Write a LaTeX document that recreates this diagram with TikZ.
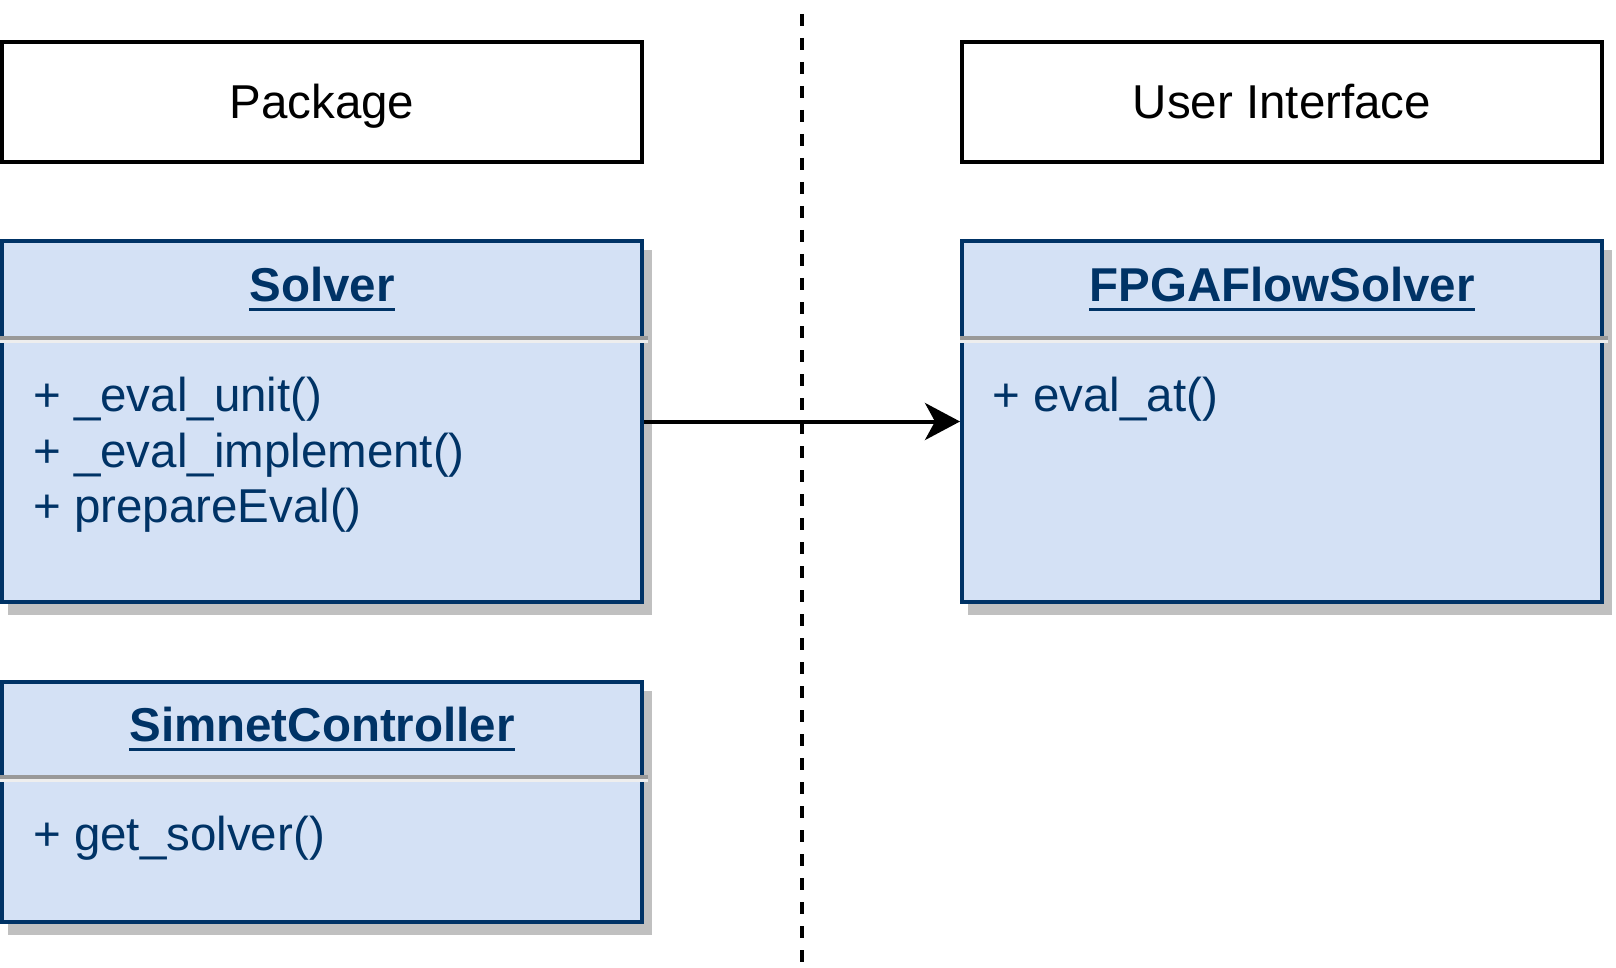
\documentclass[tikz,border=0pt]{standalone}
\usepackage{fontspec}
\setmainfont{Liberation Sans}
\usetikzlibrary{arrows.meta,shadows,calc}
\definecolor{umlfill}{HTML}{D4E1F5}
\definecolor{umlnavy}{HTML}{003366}
\definecolor{shadowgray}{HTML}{C0C0C0}
\definecolor{divgray}{HTML}{999999}
\definecolor{divlightc}{HTML}{EEEEEE}
\begin{document}
\begin{tikzpicture}[x=1pt,y=-1pt,
  every node/.style={font=\fontsize{47.5pt}{56pt}\selectfont},
  pkgbox/.style={draw=black, line width=4pt, fill=white, minimum width=640pt,
    minimum height=120pt, inner sep=0pt, text height=34pt, text depth=0pt},
  classbox/.style={draw=umlnavy, line width=4pt, fill=umlfill, minimum width=640pt,
    inner sep=0pt,
    drop shadow={shadow xshift=8pt, shadow yshift=-11pt, fill=shadowgray,
      draw=shadowgray, line width=4pt, opacity=1}},
  classtitle/.style={anchor=base, inner sep=0pt, text=umlnavy,
    font=\fontsize{47.5pt}{56pt}\selectfont\bfseries},
  member/.style={anchor=base west, inner sep=0pt, text=umlnavy},
  uline/.style={draw=umlnavy, line width=3pt},
  divdark/.style={draw=divgray, line width=3.5pt},
  divlight/.style={draw=divlightc, line width=3.5pt},
  flow/.style={draw=black, line width=4pt, -{Stealth[length=35pt,width=37pt,inset=10pt]}},
  sepline/.style={draw=black, line width=4pt, dash pattern=on 12pt off 12pt}
]
\useasboundingbox (0,0) rectangle (1616,968);

% separator
\coordinate (septop) at (802,14);
\coordinate (sepbot) at (802,962);
\draw[sepline] (septop) -- (sepbot);

% header boxes
\node[pkgbox] (package) at (322,102) {Package};
\node[pkgbox] (ui) at (1282,102) {User Interface};

% class boxes
\node[classbox, minimum height=361pt] (solver) at (322,421.5) {};
\node[classbox, minimum height=361pt] (fpga) at (1282,421.5) {};
\node[classbox, minimum height=240pt] (simnet) at (322,802) {};

% dividers
\draw[divdark]  ($(solver.north west)+(0,99)$) -- ($(solver.north east)+(4,99)$);
\draw[divlight] ($(solver.north west)+(0,102.5)$) -- ($(solver.north east)+(4,102.5)$);
\draw[divdark]  ($(fpga.north west)+(0,99)$) -- ($(fpga.north east)+(4,99)$);
\draw[divlight] ($(fpga.north west)+(0,102.5)$) -- ($(fpga.north east)+(4,102.5)$);
\draw[divdark]  ($(simnet.north west)+(0,97)$) -- ($(simnet.north east)+(4,97)$);
\draw[divlight] ($(simnet.north west)+(0,100.5)$) -- ($(simnet.north east)+(4,100.5)$);

% titles
\node[classtitle] (solvertitle) at (322,301) {Solver};
\node[classtitle] (fpgatitle) at (1282,301) {FPGAFlowSolver};
\node[classtitle] (simnettitle) at (322,741) {SimnetController};
\foreach \t in {solvertitle,fpgatitle,simnettitle}{
  \draw[uline] ($(\t.base west)+(0,8)$) -- ($(\t.base east)+(0,8)$);
}

% members
\node[member] (m1) at (33,411) {+ \_eval\_unit()};
\node[member] (m2) at (33,467) {+ \_eval\_implement()};
\node[member] (m3) at (33,522.5) {+ prepareEval()};
\node[member] (f1) at (992,411) {+ eval\_at()};
\node[member] (s1) at (33,850) {+ get\_solver()};

% connector
\draw[flow] (solver.east) -- (fpga.west);
\end{tikzpicture}
\end{document}
